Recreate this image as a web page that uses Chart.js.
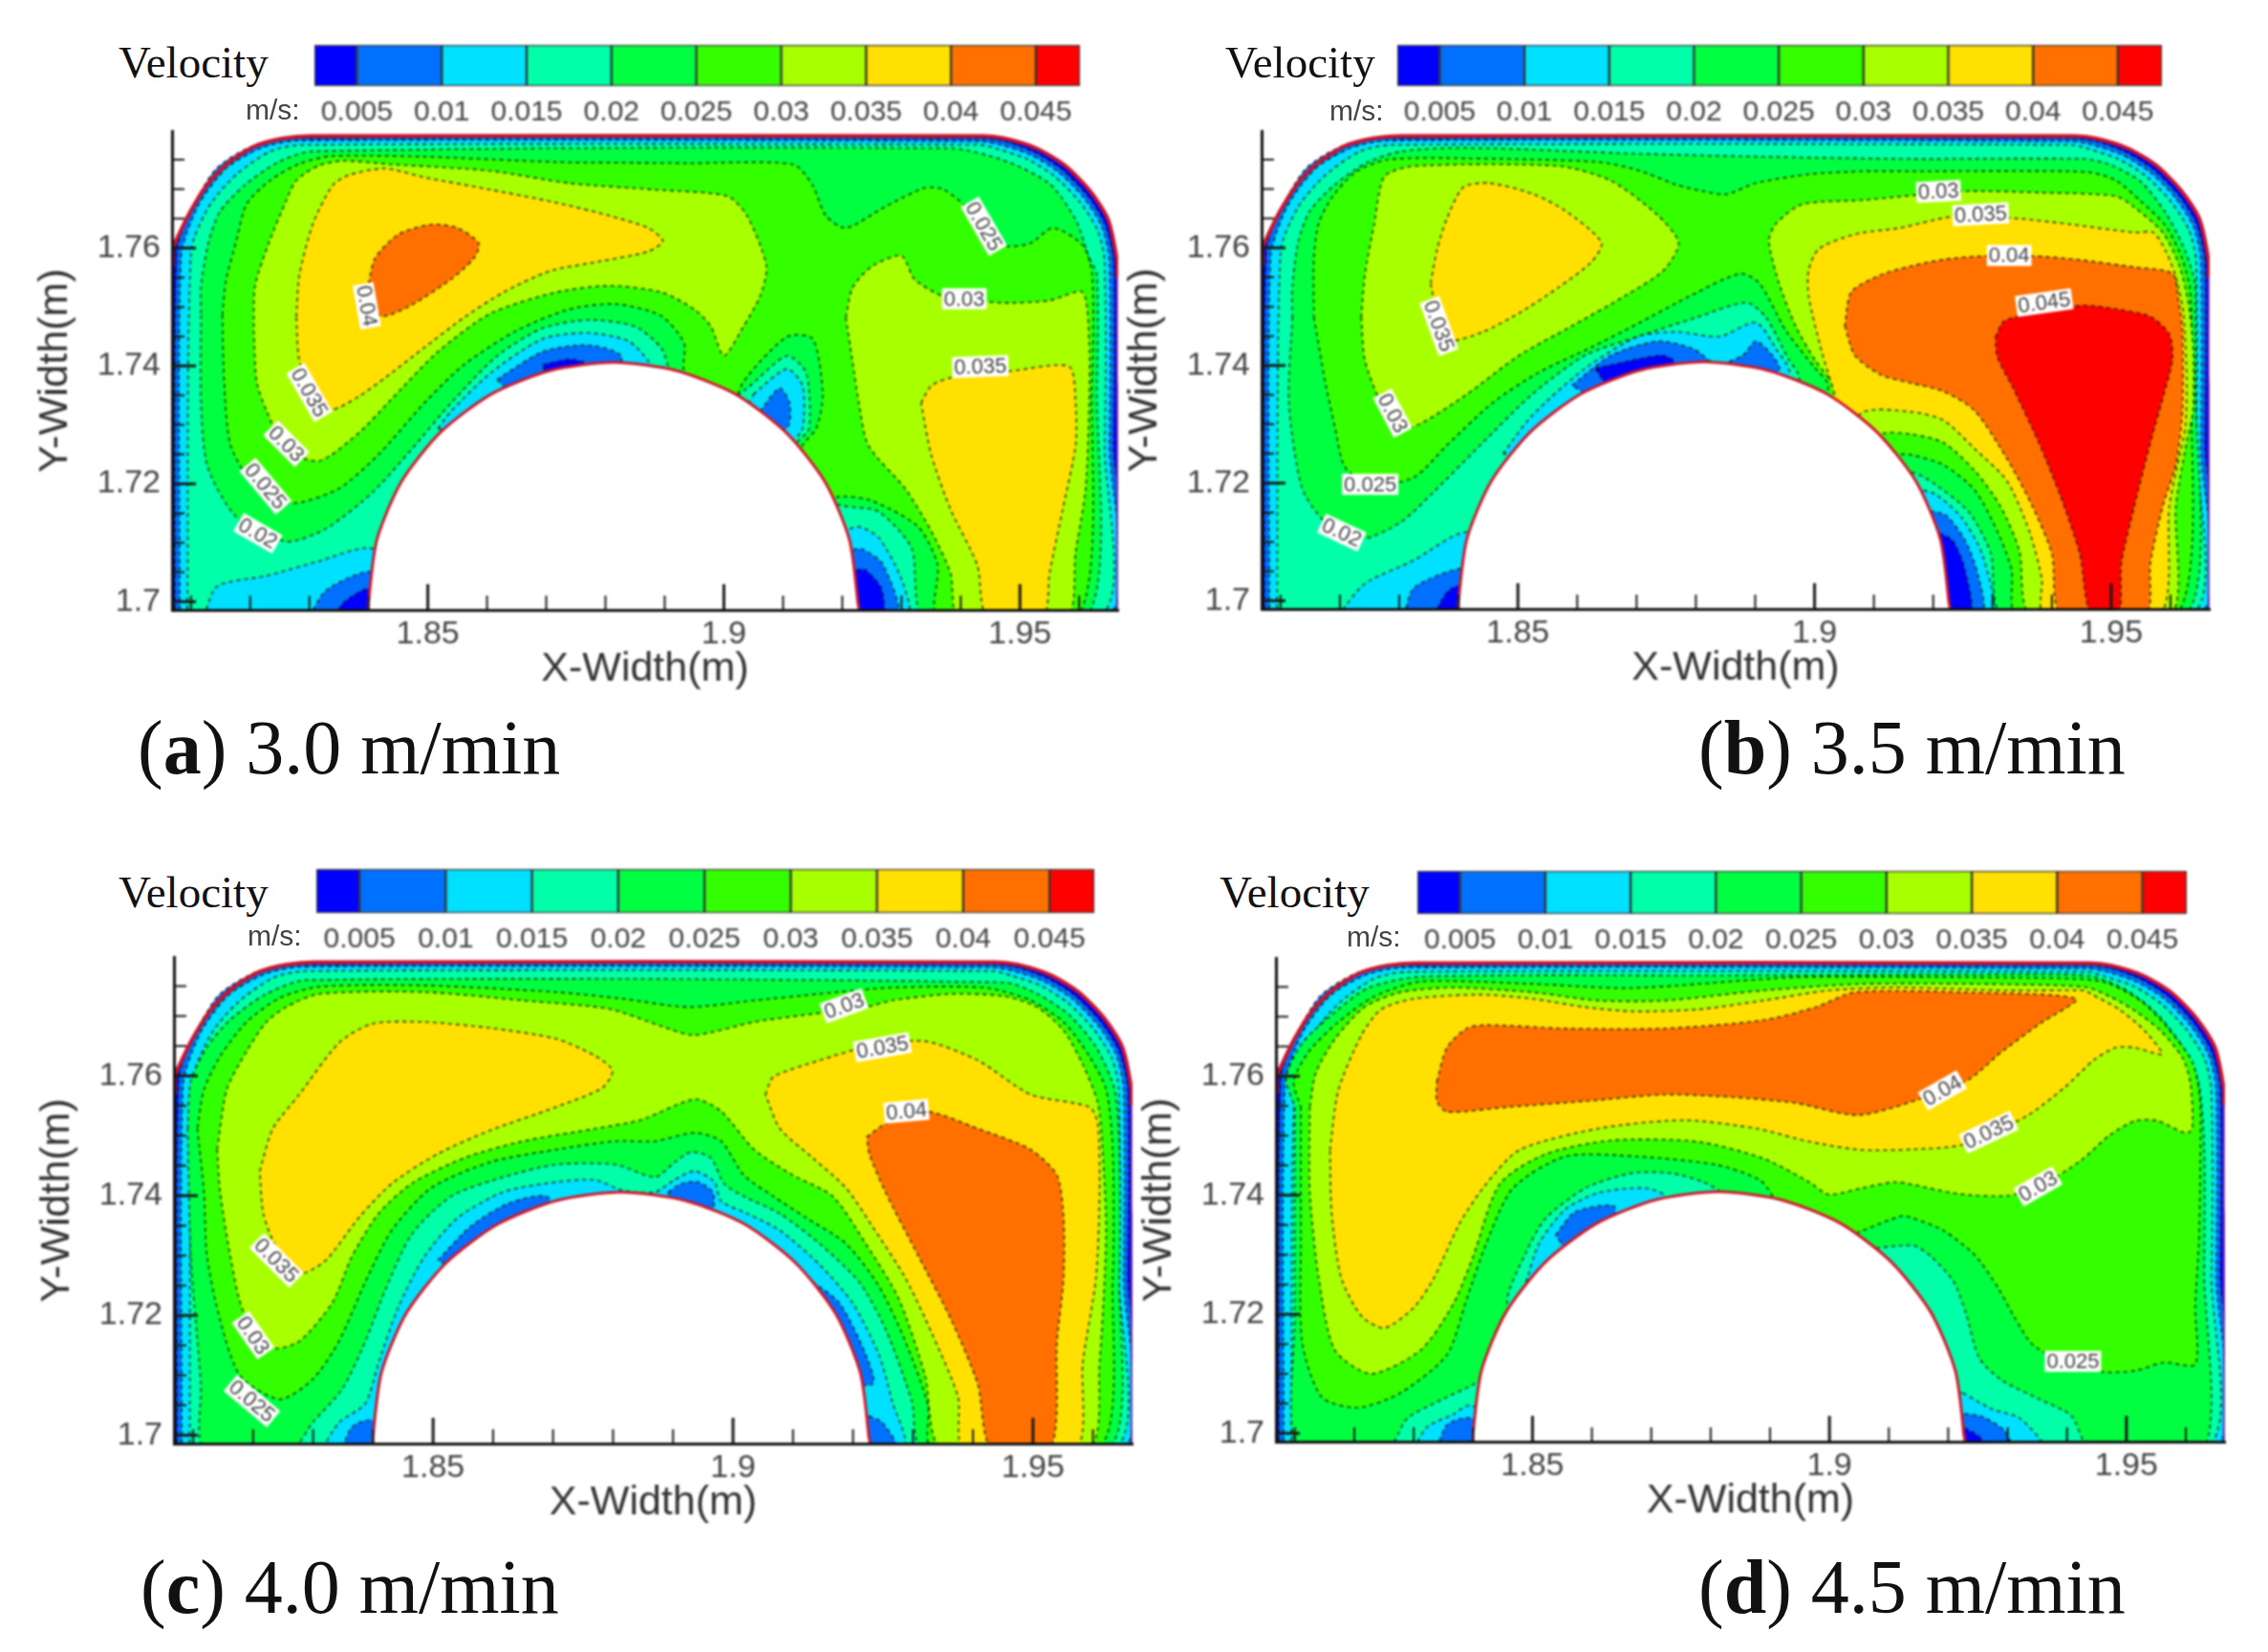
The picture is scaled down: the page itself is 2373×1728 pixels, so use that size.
<!DOCTYPE html>
<html>
<head>
<meta charset="utf-8">
<title>Velocity contours</title>
<script src="https://cdn.jsdelivr.net/npm/chart.js@4/dist/chart.umd.min.js"></script>
<style>
  html, body { margin: 0; padding: 0; background: #fff; }
  body { position: relative; width: 2373px; height: 1728px; overflow: hidden; }
  canvas { position: absolute; filter: blur(0.8px); }
  .txt { position: absolute; white-space: nowrap; }
  .velocity { font: 47px/50px "Liberation Serif", serif; color: #111; }
  .unit { font: 30px/32px "Liberation Sans", sans-serif; color: #444; }
  .caption { font: 80px/78px "Liberation Serif", serif; color: #111; }
</style>
</head>
<body>
<script>
/* ── axes and colour scale ───────────────────────────────────── */
const X_TICKS = [1.81, 1.82, 1.83, 1.84, 1.85, 1.86, 1.87, 1.88, 1.89, 1.9, 1.91, 1.92, 1.93, 1.94, 1.95, 1.96];
const X_LABELLED = [1.85, 1.9, 1.95];
const Y_TICKS = [1.7, 1.705, 1.71, 1.715, 1.72, 1.725, 1.73, 1.735, 1.74, 1.745, 1.75, 1.755, 1.76, 1.765, 1.77, 1.775];
const Y_LABELLED = [1.7, 1.72, 1.74, 1.76];
const BAND_EDGES = [0.0025, 0.005, 0.01, 0.015, 0.02, 0.025, 0.03, 0.035, 0.04, 0.045, 0.0476];
const BAND_TICKS = [0.005, 0.01, 0.015, 0.02, 0.025, 0.03, 0.035, 0.04, 0.045];
const BAND_COLORS = ['#0000ff', '#0070ff', '#00e0ff', '#00ffa8', '#00ff40', '#33ff00', '#a8ff00', '#ffe000', '#ff7000', '#ff0000'];

/* ── mould outline, shared by all four panels ────────────────── */
const WALL = [[1.807,1.6975],[1.807,1.74],[1.807,1.76],[1.8081,1.7626],[1.81,1.7664],[1.8127,1.7707],[1.8164,1.7745],[1.8208,1.7773],[1.8256,1.7786],[1.8304,1.779],[1.9437,1.779],[1.9474,1.7786],[1.9528,1.7769],[1.9576,1.774],[1.9619,1.7696],[1.9649,1.7648],[1.9664,1.7578],[1.9664,1.74],[1.9664,1.6975]];
const WALL_EDGE = [[1.807,1.757],[1.807,1.76],[1.8081,1.7626],[1.81,1.7664],[1.8127,1.7707],[1.8164,1.7745],[1.8208,1.7773],[1.8256,1.7786],[1.8304,1.779],[1.9437,1.779],[1.9474,1.7786],[1.9528,1.7769],[1.9576,1.774],[1.9619,1.7696],[1.9649,1.7648],[1.9664,1.7578],[1.9664,1.755]];
const WALL_LOW_EDGE = [[1.9664,1.755],[1.9664,1.6975]];
const CYLINDER = [[1.84,1.6975],[1.84,1.70],[1.8414,1.7105],[1.8455,1.7203],[1.8521,1.7287],[1.8607,1.7352],[1.8706,1.7392],[1.8813,1.7406],[1.892,1.7392],[1.902,1.7352],[1.9105,1.7287],[1.9171,1.7203],[1.9212,1.7105],[1.9226,1.70],[1.9226,1.6975]];
const RING_005 = [[1.8073,1.6975],[1.8076,1.7594],[1.81,1.7664],[1.8143,1.7735],[1.8208,1.7775],[1.8278,1.7786],[1.9433,1.7786],[1.9474,1.7781],[1.9524,1.7763],[1.957,1.7734],[1.9613,1.769],[1.9643,1.7642],[1.9658,1.7578],[1.9658,1.7265],[1.9652,1.6975]];
const RING_010 = [[1.8081,1.6975],[1.8083,1.7583],[1.8111,1.767],[1.8159,1.7735],[1.8219,1.777],[1.8278,1.7782],[1.9433,1.7781],[1.9468,1.7775],[1.9518,1.7758],[1.9565,1.7729],[1.9608,1.7685],[1.9638,1.7637],[1.9651,1.7578],[1.9651,1.7265],[1.9641,1.6975]];
const RING_015 = [[1.8094,1.6975],[1.81,1.7594],[1.813,1.767],[1.8176,1.7724],[1.8234,1.7764],[1.8288,1.7775],[1.9433,1.7775],[1.9462,1.7768],[1.9512,1.7751],[1.9558,1.7722],[1.9601,1.7678],[1.9631,1.763],[1.9643,1.7578],[1.9643,1.7265],[1.9628,1.6975]];

/* ── (a) 3.0 m/min ───────────────────────────────────────────── */
const A_020 = [[1.8117,1.7486],[1.8117,1.7337],[1.8128,1.7229],[1.8178,1.7142],[1.8261,1.7102],[1.8328,1.7124],[1.8406,1.7185],[1.8472,1.7258],[1.8539,1.7337],[1.8617,1.7417],[1.8694,1.7464],[1.8772,1.7478],[1.885,1.7467],[1.8894,1.7431],[1.8906,1.74],[1.895,1.73],[1.9039,1.7362],[1.9106,1.7417],[1.9139,1.7388],[1.9144,1.7294],[1.9122,1.7268],[1.91,1.72],[1.92,1.7163],[1.9261,1.7153],[1.9317,1.7091],[1.9338,1.6975],[1.9613,1.6975],[1.963,1.7373],[1.963,1.7554],[1.9617,1.7583],[1.9594,1.7648],[1.955,1.7709],[1.9472,1.7749],[1.9383,1.7769],[1.8304,1.7764],[1.8246,1.7745],[1.8191,1.7707],[1.8149,1.7662],[1.813,1.7611],[1.8117,1.7535]];
const A_025 = [[1.8153,1.7486],[1.8156,1.7373],[1.8167,1.7265],[1.8211,1.7192],[1.8272,1.7167],[1.835,1.7192],[1.8417,1.725],[1.8494,1.7337],[1.8561,1.7402],[1.865,1.746],[1.8739,1.7496],[1.8817,1.7505],[1.8894,1.7485],[1.8933,1.7438],[1.8933,1.7391],[1.9,1.73],[1.9033,1.7373],[1.9106,1.7449],[1.915,1.7446],[1.9167,1.7352],[1.9156,1.7294],[1.9133,1.7265],[1.91,1.715],[1.9194,1.7178],[1.925,1.7171],[1.9328,1.7127],[1.9361,1.7062],[1.9361,1.6975],[1.9598,1.6975],[1.9622,1.7373],[1.9622,1.7554],[1.9606,1.7605],[1.9556,1.7634],[1.9517,1.7608],[1.9472,1.7605],[1.9417,1.7663],[1.9372,1.7699],[1.9339,1.7702],[1.9272,1.767],[1.9206,1.7634],[1.9172,1.7655],[1.915,1.7706],[1.9117,1.7742],[1.8939,1.7744],[1.8717,1.7746],[1.8494,1.7755],[1.8337,1.7756],[1.8283,1.7743],[1.8234,1.7715],[1.8194,1.7675],[1.8176,1.761],[1.8159,1.7545]];
const A_030_L = [[1.8206,1.746],[1.8211,1.7373],[1.8228,1.7323],[1.8261,1.7258],[1.8317,1.7239],[1.8383,1.7286],[1.8439,1.7344],[1.8517,1.7424],[1.8606,1.7489],[1.8717,1.7525],[1.8806,1.7536],[1.8894,1.7525],[1.895,1.7496],[1.8978,1.7467],[1.9,1.7417],[1.9033,1.7467],[1.9061,1.7518],[1.9072,1.7569],[1.9039,1.7655],[1.9006,1.7688],[1.8883,1.7699],[1.8739,1.771],[1.8606,1.7731],[1.8439,1.7742],[1.8358,1.7748],[1.8316,1.774],[1.8278,1.7715],[1.8261,1.7681],[1.8232,1.761],[1.8208,1.7535]];
const A_030_R = [[1.9206,1.7482],[1.9217,1.7409],[1.9228,1.7337],[1.9244,1.7265],[1.9306,1.7192],[1.935,1.712],[1.9383,1.7048],[1.9396,1.6975],[1.9579,1.6975],[1.9594,1.7084],[1.9611,1.7192],[1.9617,1.7337],[1.9617,1.7438],[1.9606,1.7525],[1.955,1.7511],[1.9472,1.7507],[1.9372,1.7518],[1.9322,1.7547],[1.93,1.7587],[1.925,1.7569],[1.9217,1.7532]];
const A_035_L = [[1.8278,1.7482],[1.8283,1.7409],[1.8311,1.7344],[1.8339,1.7326],[1.8383,1.7348],[1.8428,1.738],[1.8494,1.7431],[1.8561,1.7482],[1.8628,1.7525],[1.8706,1.7561],[1.8783,1.7576],[1.8872,1.7594],[1.8897,1.7612],[1.8872,1.7634],[1.8806,1.7655],[1.8717,1.7677],[1.8606,1.7699],[1.8494,1.772],[1.8428,1.7735],[1.8367,1.7724],[1.8339,1.7706],[1.8306,1.7641],[1.8283,1.7554]];
const A_035_R = [[1.9333,1.7337],[1.935,1.7366],[1.9383,1.738],[1.9483,1.7391],[1.9583,1.7399],[1.9594,1.7337],[1.9594,1.7265],[1.9572,1.7156],[1.955,1.7048],[1.9539,1.6975],[1.9444,1.6975],[1.9428,1.7062],[1.9383,1.7156],[1.935,1.725]];
const A_040 = [[1.84,1.754],[1.8411,1.7583],[1.845,1.7623],[1.8506,1.764],[1.855,1.7634],[1.8586,1.7608],[1.8578,1.7583],[1.8539,1.7547],[1.8472,1.7503],[1.8422,1.7484],[1.8406,1.751]];
const A_LOW_015 = [
  [[1.8122,1.6975],[1.8144,1.7026],[1.8228,1.7044],[1.8317,1.7069],[1.84,1.7091],[1.85,1.705],[1.85,1.6975]],
  [[1.8517,1.7294],[1.8539,1.7323],[1.8606,1.7388],[1.8694,1.7446],[1.8772,1.7456],[1.8839,1.7442],[1.8872,1.7409],[1.8883,1.7384],[1.88,1.72]],
  [[1.905,1.7352],[1.9106,1.7395],[1.9133,1.7366],[1.9133,1.7294],[1.9117,1.7275],[1.9,1.725]],
  [[1.9213,1.7124],[1.923,1.7127],[1.9262,1.7108],[1.93,1.7038],[1.931,1.6975],[1.91,1.6975],[1.91,1.71]]
];
const A_LOW_010 = [
  [[1.83,1.6975],[1.8328,1.7019],[1.84,1.7051],[1.85,1.703],[1.85,1.6975]],
  [[1.8617,1.7377],[1.8694,1.7424],[1.8772,1.7435],[1.8828,1.7413],[1.875,1.725]],
  [[1.9061,1.7323],[1.9094,1.7362],[1.9111,1.7337],[1.9106,1.7294],[1.9,1.725]],
  [[1.9219,1.7089],[1.9234,1.7089],[1.9268,1.7064],[1.9292,1.6975],[1.91,1.6975],[1.91,1.705]]
];
const A_LOW_005 = [
  [[1.8345,1.6975],[1.8356,1.6997],[1.84,1.7022],[1.845,1.70],[1.845,1.6975]],
  [[1.8694,1.7402],[1.8739,1.7411],[1.8767,1.7402],[1.873,1.73]],
  [[1.9224,1.7054],[1.9239,1.7054],[1.9266,1.7022],[1.9266,1.6975],[1.91,1.6975],[1.91,1.70]]
];
const A_LABELS = [[1.8397,1.7502,'0.04',80],[1.83,1.7355,'0.035',60],[1.8261,1.7268,'0.03',45],[1.8226,1.7196,'0.025',50],[1.8213,1.7116,'0.02',30],[1.9439,1.7637,'0.025',60],[1.9406,1.7514,'0.03',0],[1.9433,1.7399,'0.035',-2]];

/* ── (b) 3.5 m/min ───────────────────────────────────────────── */
const B_020 = [[1.812,1.7482],[1.8114,1.7337],[1.8136,1.7192],[1.8175,1.7134],[1.8236,1.7105],[1.8303,1.7134],[1.8358,1.7185],[1.8436,1.7264],[1.8524,1.7351],[1.8613,1.7417],[1.8702,1.7449],[1.8802,1.7482],[1.8885,1.7507],[1.8918,1.7482],[1.8957,1.7409],[1.8973,1.7384],[1.9,1.72],[1.9163,1.7218],[1.92,1.72],[1.926,1.7151],[1.9297,1.7081],[1.9316,1.6977],[1.9627,1.6977],[1.9642,1.7377],[1.9642,1.7486],[1.9641,1.754],[1.9625,1.7594],[1.9592,1.7659],[1.9549,1.7713],[1.9496,1.7742],[1.9453,1.7751],[1.9163,1.7751],[1.8901,1.7755],[1.8702,1.776],[1.8414,1.777],[1.8304,1.7764],[1.8246,1.7745],[1.8191,1.7707],[1.8149,1.7662],[1.813,1.7611],[1.812,1.7535]];
const B_025 = [[1.8156,1.7482],[1.8175,1.7373],[1.8192,1.7293],[1.8208,1.7228],[1.8253,1.7196],[1.8325,1.721],[1.838,1.7264],[1.8458,1.7337],[1.8535,1.7388],[1.8624,1.7431],[1.8702,1.7471],[1.879,1.7518],[1.8874,1.7556],[1.8907,1.754],[1.8951,1.746],[1.9001,1.7395],[1.9023,1.7366],[1.9,1.72],[1.914,1.7248],[1.9163,1.7248],[1.9217,1.7231],[1.927,1.7188],[1.9308,1.7118],[1.9332,1.7053],[1.934,1.6977],[1.9611,1.6977],[1.9636,1.7377],[1.9636,1.7432],[1.9633,1.7529],[1.9619,1.7583],[1.9592,1.7637],[1.9549,1.768],[1.9507,1.7715],[1.9458,1.7729],[1.9163,1.773],[1.9079,1.773],[1.899,1.7725],[1.8901,1.771],[1.8851,1.7691],[1.8813,1.7696],[1.8768,1.7707],[1.8702,1.7732],[1.8635,1.7746],[1.8414,1.7752],[1.828,1.775],[1.8225,1.7728],[1.8186,1.7685],[1.8164,1.7641],[1.8156,1.7583]];
const B_030_L = [[1.8236,1.7482],[1.8242,1.7554],[1.8258,1.7641],[1.8275,1.7721],[1.8325,1.7739],[1.8569,1.7739],[1.8657,1.7714],[1.8735,1.7656],[1.8771,1.7609],[1.8746,1.7562],[1.868,1.7518],[1.8591,1.7467],[1.8502,1.7417],[1.8414,1.7351],[1.8336,1.7301],[1.8303,1.7293],[1.8269,1.7337],[1.8242,1.7409]];
const B_030_R = [[1.904,1.7359],[1.9001,1.7409],[1.8968,1.7467],[1.894,1.754],[1.8923,1.7612],[1.8935,1.7641],[1.8979,1.7674],[1.9079,1.7681],[1.9249,1.7696],[1.9378,1.7694],[1.9507,1.7688],[1.9539,1.7669],[1.9587,1.7626],[1.9614,1.7572],[1.963,1.7507],[1.9638,1.7432],[1.9638,1.7323],[1.9627,1.7269],[1.9609,1.7161],[1.96,1.6977],[1.9364,1.6977],[1.9345,1.7086],[1.9313,1.7161],[1.927,1.7221],[1.9217,1.7269],[1.9163,1.7283],[1.9112,1.7283],[1.9,1.72]];
const B_035_L = [[1.8353,1.754],[1.8364,1.7598],[1.838,1.7649],[1.8408,1.7703],[1.8452,1.771],[1.8524,1.7692],[1.858,1.7663],[1.8641,1.7609],[1.8624,1.7576],[1.8569,1.7533],[1.8502,1.7489],[1.8441,1.7457],[1.838,1.7442],[1.8364,1.7482]];
const B_035_R = [[1.9034,1.7351],[1.9012,1.7424],[1.899,1.7518],[1.899,1.7562],[1.9007,1.7598],[1.9068,1.7623],[1.9145,1.7634],[1.9233,1.7653],[1.934,1.765],[1.9431,1.764],[1.9539,1.7626],[1.9571,1.7626],[1.9592,1.7594],[1.9609,1.755],[1.9622,1.7486],[1.9627,1.7377],[1.9625,1.7296],[1.9614,1.7242],[1.9598,1.7161],[1.9582,1.6977],[1.9386,1.6977],[1.9383,1.7037],[1.9362,1.7118],[1.9324,1.7204],[1.927,1.7258],[1.9217,1.7307],[1.9163,1.7321],[1.9079,1.7319],[1.9,1.72]];
const B_040 = [[1.9051,1.7467],[1.9068,1.7417],[1.9112,1.7384],[1.9163,1.737],[1.9217,1.7356],[1.927,1.7323],[1.9324,1.7242],[1.9367,1.7161],[1.94,1.708],[1.9415,1.6977],[1.9558,1.6977],[1.9566,1.7064],[1.9587,1.7161],[1.9609,1.7232],[1.962,1.7323],[1.962,1.7459],[1.9614,1.7507],[1.9603,1.7556],[1.9539,1.7567],[1.9442,1.758],[1.9367,1.7586],[1.9286,1.7586],[1.9217,1.758],[1.9163,1.7569],[1.9112,1.7554],[1.9062,1.7525]];
const B_045 = [[1.9305,1.7448],[1.9319,1.7475],[1.9378,1.7491],[1.9453,1.7502],[1.9507,1.7496],[1.9566,1.7483],[1.9598,1.7453],[1.9603,1.741],[1.9587,1.7345],[1.9566,1.7269],[1.9539,1.7161],[1.9517,1.7064],[1.9512,1.6977],[1.9466,1.6977],[1.9447,1.708],[1.9415,1.7177],[1.9378,1.7269],[1.9335,1.7361],[1.9308,1.7415]];
const B_LOW_015 = [
  [[1.8197,1.6975],[1.8242,1.7029],[1.8325,1.7069],[1.8408,1.7116],[1.85,1.71],[1.85,1.6975]],
  [[1.8475,1.725],[1.8524,1.7315],[1.8613,1.7395],[1.8702,1.7449],[1.8768,1.7457],[1.884,1.7449],[1.8901,1.7473],[1.8935,1.7428],[1.8957,1.7384],[1.88,1.72]],
  [[1.9184,1.7188],[1.9206,1.718],[1.9249,1.714],[1.9284,1.7075],[1.9297,1.6977],[1.91,1.6977],[1.91,1.71]]
];
const B_LOW_010 = [
  [[1.8308,1.6975],[1.8325,1.7022],[1.84,1.7054],[1.85,1.705],[1.85,1.6975]],
  [[1.8591,1.7366],[1.8657,1.7417],[1.8735,1.7441],[1.8796,1.7428],[1.8835,1.7402],[1.8879,1.7417],[1.8901,1.7441],[1.8929,1.7417],[1.894,1.7391],[1.88,1.725]],
  [[1.9195,1.7153],[1.9222,1.7145],[1.9254,1.7102],[1.9276,1.7042],[1.9281,1.6977],[1.91,1.6977],[1.91,1.705]]
];
const B_LOW_005 = [
  [[1.8358,1.6975],[1.838,1.7014],[1.84,1.7025],[1.85,1.70],[1.85,1.6975]],
  [[1.863,1.7395],[1.8741,1.7417],[1.8763,1.7406],[1.87,1.73]],
  [[1.9211,1.7115],[1.9233,1.7102],[1.9252,1.7058],[1.926,1.6977],[1.91,1.6977],[1.91,1.70]]
];
const B_LABELS = [[1.9209,1.7696,'0.03',-3],[1.928,1.7657,'0.035',-3],[1.9328,1.7587,'0.04',0],[1.9387,1.7507,'0.045',-8],[1.8367,1.7467,'0.035',70],[1.8289,1.7319,'0.03',62],[1.8251,1.7198,'0.025',0],[1.8203,1.7116,'0.02',25]];

/* ── (c) 4.0 m/min ───────────────────────────────────────────── */
const C_020 = [[1.8091,1.7512],[1.8096,1.7299],[1.8113,1.7085],[1.8118,1.6979],[1.8266,1.6979],[1.8299,1.7021],[1.8349,1.7078],[1.8387,1.7157],[1.842,1.7242],[1.8464,1.7335],[1.853,1.7399],[1.8617,1.7431],[1.8705,1.7452],[1.8804,1.7452],[1.887,1.7431],[1.8903,1.7456],[1.893,1.7473],[1.8963,1.7463],[1.8985,1.742],[1.9018,1.7399],[1.9078,1.737],[1.9144,1.732],[1.921,1.7256],[1.9254,1.7178],[1.9298,1.7057],[1.9315,1.6979],[1.9627,1.6979],[1.9644,1.7263],[1.9644,1.7477],[1.9636,1.7577],[1.9605,1.7648],[1.9561,1.7701],[1.9507,1.7737],[1.9452,1.7756],[1.8288,1.776],[1.8222,1.7737],[1.8162,1.7694],[1.8123,1.7648],[1.8096,1.7591]];
const C_025 = [[1.8107,1.7512],[1.8118,1.7406],[1.8123,1.7299],[1.8145,1.7192],[1.8178,1.71],[1.8244,1.706],[1.8299,1.7093],[1.8343,1.7157],[1.8387,1.7256],[1.8431,1.7342],[1.8497,1.7413],[1.8595,1.7456],[1.8705,1.7477],[1.8804,1.7491],[1.887,1.7491],[1.8936,1.7505],[1.898,1.7491],[1.9018,1.7434],[1.9067,1.7399],[1.9122,1.7363],[1.9188,1.732],[1.9243,1.7249],[1.9287,1.7157],[1.9325,1.705],[1.9331,1.6979],[1.9611,1.6979],[1.9633,1.7263],[1.9633,1.7477],[1.9622,1.7577],[1.9594,1.7633],[1.9551,1.769],[1.9496,1.7726],[1.943,1.7746],[1.9364,1.7749],[1.9254,1.7747],[1.9144,1.7737],[1.9035,1.7726],[1.8925,1.7715],[1.8815,1.7729],[1.8705,1.774],[1.8486,1.7751],[1.831,1.7749],[1.8244,1.773],[1.8189,1.769],[1.8145,1.7633],[1.8118,1.7577]];
const C_030 = [[1.814,1.7477],[1.8145,1.7406],[1.8162,1.7299],[1.8184,1.7206],[1.8233,1.7146],[1.8277,1.7157],[1.8332,1.7221],[1.8365,1.7299],[1.8409,1.737],[1.8464,1.742],[1.8552,1.7463],[1.865,1.7491],[1.8771,1.7512],[1.8848,1.7527],[1.8936,1.7561],[1.898,1.7541],[1.9035,1.7477],[1.91,1.7434],[1.9166,1.7399],[1.9221,1.732],[1.9276,1.7228],[1.932,1.71],[1.9347,1.6979],[1.9594,1.6979],[1.9611,1.7121],[1.9622,1.7335],[1.9616,1.7477],[1.9608,1.7555],[1.9583,1.7619],[1.9551,1.7676],[1.9507,1.7715],[1.9452,1.7733],[1.9364,1.7737],[1.9265,1.7726],[1.9221,1.7715],[1.9144,1.7705],[1.9035,1.769],[1.8934,1.7668],[1.8881,1.7683],[1.8793,1.7712],[1.865,1.7726],[1.8486,1.774],[1.831,1.7737],[1.8255,1.7715],[1.8222,1.769],[1.8189,1.7641],[1.8156,1.7577]];
const C_035_L = [[1.8211,1.7441],[1.8233,1.7512],[1.8277,1.7569],[1.8343,1.7655],[1.8398,1.7687],[1.8486,1.769],[1.8595,1.768],[1.8705,1.7662],[1.8771,1.7633],[1.8799,1.7609],[1.8782,1.758],[1.8705,1.7548],[1.8595,1.7509],[1.8508,1.747],[1.8431,1.742],[1.8376,1.7363],[1.8321,1.7292],[1.8277,1.727],[1.8239,1.7313],[1.8217,1.737]];
const C_035_R = [[1.9054,1.7569],[1.9067,1.7598],[1.9144,1.7626],[1.9232,1.7651],[1.932,1.7658],[1.9408,1.7626],[1.9496,1.7569],[1.9594,1.7548],[1.9608,1.752],[1.9611,1.7406],[1.9605,1.7263],[1.9583,1.7121],[1.9572,1.6979],[1.9384,1.6979],[1.9375,1.7064],[1.9331,1.7171],[1.9287,1.7263],[1.9232,1.7349],[1.9188,1.7413],[1.9133,1.7463],[1.9078,1.7512]];
const C_040 = [[1.9223,1.7498],[1.9254,1.752],[1.932,1.7541],[1.9408,1.7512],[1.9496,1.7477],[1.954,1.7434],[1.9551,1.7363],[1.9551,1.7263],[1.954,1.7157],[1.9529,1.6979],[1.943,1.6979],[1.9408,1.7085],[1.9364,1.7192],[1.9309,1.7299],[1.9254,1.7406],[1.9227,1.747]];
const C_LOW_015 = [
  [[1.8316,1.6979],[1.8343,1.7021],[1.8387,1.7053],[1.8409,1.7121],[1.8442,1.7214],[1.8486,1.7299],[1.8541,1.7363],[1.8617,1.7406],[1.8705,1.7423],[1.8771,1.7426],[1.8815,1.7409],[1.887,1.7406],[1.8903,1.7427],[1.8936,1.7441],[1.8969,1.7423],[1.898,1.7391],[1.9024,1.737],[1.9078,1.7342],[1.9144,1.7285],[1.9199,1.7221],[1.9243,1.7135],[1.9265,1.7057],[1.9282,1.6979]]
];
const C_LOW_010 = [
  [[1.8349,1.6979],[1.8365,1.7014],[1.8396,1.7025],[1.85,1.70],[1.85,1.6979]],
  [[1.8508,1.7292],[1.8563,1.7349],[1.8628,1.7388],[1.8694,1.7395],[1.87,1.72]],
  [[1.8892,1.7406],[1.8914,1.742],[1.8941,1.7423],[1.8966,1.7406],[1.8966,1.7377],[1.89,1.73]],
  [[1.9133,1.7256],[1.9177,1.7221],[1.9221,1.7135],[1.9232,1.7085],[1.91,1.71]],
  [[1.9227,1.7032],[1.9249,1.7021],[1.9271,1.6979],[1.91,1.6979],[1.91,1.70]]
];
const C_LOW_005 = [];
const C_LABELS = [[1.8239,1.7292,'0.035',45],[1.82,1.7167,'0.03',55],[1.8198,1.7057,'0.025',40],[1.9185,1.7717,'0.03',-20],[1.9249,1.7648,'0.035',-10],[1.9289,1.7541,'0.04',-5]];

/* ── (d) 4.5 m/min ───────────────────────────────────────────── */
const D_020 = [[1.81,1.7548],[1.81,1.72],[1.8105,1.6975],[1.8256,1.6975],[1.8289,1.7025],[1.8356,1.7061],[1.84,1.7082],[1.85,1.715],[1.8457,1.7218],[1.8489,1.7304],[1.8522,1.7361],[1.8589,1.7412],[1.8666,1.7437],[1.8733,1.7437],[1.8788,1.7422],[1.8822,1.7401],[1.89,1.73],[1.9139,1.7316],[1.9171,1.7297],[1.9209,1.7255],[1.923,1.7201],[1.9252,1.7127],[1.9289,1.709],[1.9354,1.7057],[1.9407,1.703],[1.9439,1.6975],[1.963,1.6975],[1.9631,1.7266],[1.9631,1.748],[1.9622,1.7587],[1.96,1.764],[1.9557,1.7699],[1.9504,1.7742],[1.9439,1.7768],[1.9246,1.7771],[1.8833,1.7769],[1.8312,1.7767],[1.8223,1.7748],[1.8156,1.7698],[1.8112,1.7655],[1.8085,1.7598]];
const D_025 = [[1.811,1.7548],[1.811,1.7333],[1.8112,1.7154],[1.8145,1.7061],[1.8206,1.7043],[1.8278,1.7068],[1.8356,1.7132],[1.8389,1.7225],[1.8422,1.7319],[1.8467,1.7412],[1.8555,1.7465],[1.8677,1.7465],[1.881,1.7451],[1.8882,1.7426],[1.8905,1.7397],[1.895,1.73],[1.9054,1.734],[1.9121,1.7365],[1.9139,1.7362],[1.9193,1.734],[1.9246,1.7298],[1.9284,1.7244],[1.9311,1.7196],[1.9343,1.7148],[1.9407,1.7116],[1.9461,1.7103],[1.9514,1.7105],[1.9563,1.7119],[1.9616,1.7116],[1.9616,1.7212],[1.9622,1.732],[1.9624,1.7426],[1.9624,1.756],[1.9611,1.7624],[1.9568,1.7683],[1.9525,1.7726],[1.9472,1.7755],[1.9429,1.7763],[1.9246,1.7766],[1.8943,1.7766],[1.8666,1.7748],[1.85,1.7755],[1.8312,1.7759],[1.8234,1.7734],[1.8173,1.7691],[1.8123,1.7641],[1.8098,1.7591]];
const D_030 = [[1.8125,1.7548],[1.8125,1.7404],[1.814,1.7261],[1.8167,1.714],[1.8228,1.71],[1.8312,1.714],[1.8367,1.7218],[1.84,1.7297],[1.8445,1.7419],[1.8522,1.7469],[1.8633,1.7492],[1.8777,1.749],[1.8888,1.7462],[1.8966,1.7422],[1.8999,1.7401],[1.9054,1.7412],[1.911,1.7422],[1.9139,1.7418],[1.9219,1.7402],[1.93,1.7399],[1.9354,1.7415],[1.9423,1.7458],[1.9472,1.7501],[1.9515,1.7525],[1.9552,1.7525],[1.96,1.7504],[1.9611,1.7512],[1.9608,1.7587],[1.9595,1.763],[1.9557,1.7677],[1.9514,1.771],[1.9472,1.7734],[1.9429,1.775],[1.9246,1.7755],[1.9054,1.7755],[1.8888,1.7744],[1.8722,1.7727],[1.8611,1.7727],[1.85,1.7741],[1.8367,1.7749],[1.8278,1.7741],[1.8217,1.7716],[1.8167,1.7662],[1.8135,1.7605]];
const D_035 = [[1.8159,1.7476],[1.8173,1.7576],[1.8212,1.7669],[1.8245,1.7712],[1.83,1.773],[1.8411,1.7737],[1.85,1.773],[1.8589,1.7716],[1.8666,1.7709],[1.8777,1.7712],[1.8888,1.7727],[1.8999,1.7744],[1.911,1.7749],[1.93,1.7744],[1.9429,1.7744],[1.9439,1.7739],[1.9488,1.7712],[1.953,1.7677],[1.956,1.7637],[1.9514,1.7648],[1.9482,1.7648],[1.9445,1.7627],[1.9396,1.7581],[1.9332,1.7533],[1.9225,1.7485],[1.9139,1.7477],[1.9054,1.7476],[1.8966,1.749],[1.8877,1.7512],[1.8755,1.7526],[1.8611,1.7512],[1.8478,1.7476],[1.8422,1.7419],[1.8378,1.7354],[1.8334,1.7261],[1.83,1.7211],[1.8251,1.7177],[1.8212,1.7197],[1.8178,1.7261],[1.8162,1.7369]];
const D_040 = [[1.8339,1.7591],[1.8356,1.7648],[1.8389,1.768],[1.8422,1.7686],[1.8555,1.768],[1.8722,1.768],[1.8888,1.7694],[1.8977,1.7716],[1.9043,1.7741],[1.9221,1.7741],[1.9415,1.773],[1.9354,1.7688],[1.9289,1.764],[1.923,1.7592],[1.9054,1.7535],[1.8943,1.7555],[1.8833,1.7565],[1.8722,1.7569],[1.8589,1.7558],[1.8456,1.7548],[1.8356,1.754],[1.8339,1.7558]];
const D_LOW_015 = [
  [[1.83,1.6975],[1.8323,1.7011],[1.8367,1.7032],[1.8395,1.7047],[1.85,1.70],[1.85,1.6975]],
  [[1.8489,1.7254],[1.8511,1.7319],[1.8555,1.7376],[1.8611,1.7404],[1.8688,1.7412],[1.8722,1.7397],[1.86,1.72]],
  [[1.9225,1.7068],[1.9273,1.7041],[1.9321,1.7025],[1.9359,1.6975],[1.91,1.6975],[1.91,1.705]]
];
const D_LOW_010 = [
  [[1.8339,1.6975],[1.8356,1.7014],[1.8392,1.7026],[1.85,1.70],[1.85,1.6975]],
  [[1.8539,1.7333],[1.8572,1.7372],[1.8639,1.7379],[1.86,1.725]],
  [[1.9228,1.7033],[1.9257,1.7028],[1.9295,1.7004],[1.9305,1.6975],[1.91,1.6975],[1.91,1.70]]
];
const D_LOW_005 = [
  [[1.9228,1.7009],[1.9254,1.6993],[1.926,1.6975],[1.91,1.6975],[1.91,1.70]]
];
const D_LABELS = [[1.919,1.7576,'0.04',-30],[1.9268,1.7506,'0.035',-25],[1.9351,1.7415,'0.03',-30],[1.941,1.7121,'0.025',0]];

/* ── page layout, pixels ─────────────────────────────────────── */
const X_BOUNDS = [1.8068, 1.9666];
const Y_BOUNDS = [1.6986, 1.7798];
const PANELS = [
  { plot: [180, 137, 1170, 638],  bar: [329, 47, 1130, 90],    vel: [124, 40],   unit: [257, 99],   cap: [144, 743],  letter: 'a', text: '3.0 m/min',
    fills: [[4, A_020], [5, A_025], [6, A_030_L], [6, A_030_R], [7, A_035_L], [7, A_035_R], [8, A_040]], lows: [A_LOW_015, A_LOW_010, A_LOW_005], labels: A_LABELS },
  { plot: [1320, 137, 2312, 637], bar: [1462, 47, 2262, 90],   vel: [1282, 40],  unit: [1391, 100], cap: [1777, 743], letter: 'b', text: '3.5 m/min',
    fills: [[4, B_020], [5, B_025], [6, B_030_L], [6, B_030_R], [7, B_035_L], [7, B_035_R], [8, B_040], [9, B_045]], lows: [B_LOW_015, B_LOW_010, B_LOW_005], labels: B_LABELS },
  { plot: [182, 1001, 1185, 1510], bar: [331, 909, 1145, 955], vel: [124, 908],  unit: [259, 963],  cap: [147, 1621], letter: 'c', text: '4.0 m/min',
    fills: [[4, C_020], [5, C_025], [6, C_030], [7, C_035_L], [7, C_035_R], [8, C_040]], lows: [C_LOW_015, C_LOW_010, C_LOW_005], labels: C_LABELS },
  { plot: [1335, 1002, 2328, 1508], bar: [1483, 911, 2288, 956], vel: [1276, 908], unit: [1409, 964], cap: [1777, 1621], letter: 'd', text: '4.5 m/min',
    fills: [[4, D_020], [5, D_025], [6, D_030], [7, D_035], [8, D_040]], lows: [D_LOW_015, D_LOW_010, D_LOW_005], labels: D_LABELS },
];
const PLOT_LEFT = 148, PLOT_BOTTOM = 88, PLOT_PAD = 6;

const toPoints = pts => pts.map(([x, y]) => ({ x, y }));

function contour(pts, color) {
  return {
    data: toPoints(pts.concat([pts[0]])), showLine: true, fill: 'shape', backgroundColor: color,
    borderColor: 'rgba(10,25,0,0.85)', borderWidth: 1.6, borderDash: [4, 4], pointRadius: 0, tension: 0.25,
  };
}

function edge(pts, color, width) {
  return { data: toPoints(pts), showLine: true, fill: false, borderColor: color, borderWidth: width, pointRadius: 0, tension: 0.25 };
}

// Inward ticks
const inwardTicks = {
  id: 'inwardTicks',
  afterDatasetsDraw(chart) {
    const { ctx, chartArea: a, scales: { x, y } } = chart;
    ctx.save();
    ctx.strokeStyle = '#1a1a1a';
    x.ticks.forEach(t => {
      const major = X_LABELLED.includes(t.value);
      const px = x.getPixelForValue(t.value);
      ctx.lineWidth = major ? 3 : 2;
      ctx.beginPath();
      ctx.moveTo(px, a.bottom);
      ctx.lineTo(px, a.bottom - (major ? 27 : 15));
      ctx.stroke();
    });
    y.ticks.forEach(t => {
      const major = Y_LABELLED.includes(t.value);
      const py = y.getPixelForValue(t.value);
      ctx.lineWidth = major ? 3 : 2;
      ctx.beginPath();
      ctx.moveTo(a.left, py);
      ctx.lineTo(a.left + (major ? 25 : 13), py);
      ctx.stroke();
    });
    ctx.restore();
  },
};

// Contour value labels on white boxes
const contourLabels = {
  id: 'contourLabels',
  afterDatasetsDraw(chart, args, opts) {
    const { ctx, scales: { x, y } } = chart;
    ctx.save();
    ctx.font = '22px "Liberation Sans", sans-serif';
    ctx.textAlign = 'center';
    ctx.textBaseline = 'middle';
    opts.items.forEach(([vx, vy, text, angle]) => {
      const w = ctx.measureText(text).width + 4;
      ctx.save();
      ctx.translate(x.getPixelForValue(vx), y.getPixelForValue(vy));
      ctx.rotate(angle * Math.PI / 180);
      ctx.fillStyle = '#fff';
      ctx.fillRect(-w / 2, -11, w, 22);
      ctx.fillStyle = '#444';
      ctx.fillText(text, 0, 1);
      ctx.restore();
    });
    ctx.restore();
  },
};

function addCanvas(left, top, width, height) {
  const cv = document.createElement('canvas');
  cv.width = width;
  cv.height = height;
  cv.style.cssText = `left:${left}px;top:${top}px;width:${width}px;height:${height}px`;
  document.body.appendChild(cv);
  return cv.getContext('2d');
}

function addText(cls, left, top, html) {
  const el = document.createElement('div');
  el.className = 'txt ' + cls;
  el.style.left = left + 'px';
  el.style.top = top + 'px';
  el.innerHTML = html;
  document.body.appendChild(el);
}

function drawPlot(p) {
  const [l, t, r, b] = p.plot;
  const width = r - l + PLOT_LEFT + PLOT_PAD, height = b - t + PLOT_PAD + PLOT_BOTTOM;
  const ctx = addCanvas(l - PLOT_LEFT, t - PLOT_PAD, width, height);

  const layers = [contour(WALL, BAND_COLORS[0]), contour(RING_005, BAND_COLORS[1]), contour(RING_010, BAND_COLORS[2]), contour(RING_015, BAND_COLORS[3])];
  p.fills.forEach(([band, pts]) => layers.push(contour(pts, BAND_COLORS[band])));
  p.lows.forEach((blobs, i) => blobs.forEach(pts => layers.push(contour(pts, BAND_COLORS[2 - i]))));
  const cyl = contour(CYLINDER, '#ffffff');
  cyl.borderColor = '#d01a2c';
  cyl.borderWidth = 3;
  cyl.borderDash = [];
  layers.push(cyl, edge(WALL_EDGE, '#c8142c', 4), edge(WALL_LOW_EDGE, '#7a2ca8', 2));
  layers[0].borderWidth = 0;

  const chart = new Chart(ctx, {
    type: 'scatter',
    data: { datasets: layers.reverse() },   // first dataset is painted last
    plugins: [inwardTicks, contourLabels],
    options: {
      animation: false,
      responsive: false,
      maintainAspectRatio: false,
      devicePixelRatio: 1,
      layout: { autoPadding: false, padding: { top: PLOT_PAD, right: PLOT_PAD } },
      plugins: { legend: { display: false }, tooltip: { enabled: false }, contourLabels: { items: p.labels } },
      scales: {
        x: {
          type: 'linear', min: X_BOUNDS[0], max: X_BOUNDS[1],
          afterFit: s => { s.height = PLOT_BOTTOM; },
          afterBuildTicks: s => { s.ticks = X_TICKS.map(value => ({ value })); },
          grid: { display: false, drawTicks: false },
          border: { display: true, color: '#111', width: 3, z: 2 },
          ticks: {
            autoSkip: false, maxRotation: 0, padding: 5, color: '#444',
            font: { family: 'Liberation Sans', size: 34 },
            callback: v => X_LABELLED.includes(v) ? String(v) : '',
          },
          title: { display: true, text: 'X-Width(m)', color: '#333', font: { family: 'Liberation Sans', size: 43 }, padding: 0 },
        },
        y: {
          min: Y_BOUNDS[0], max: Y_BOUNDS[1],
          afterFit: s => { s.width = PLOT_LEFT; },
          afterBuildTicks: s => { s.ticks = Y_TICKS.map(value => ({ value })); },
          grid: { display: false, drawTicks: false },
          border: { display: true, color: '#111', width: 3, z: 2 },
          ticks: {
            autoSkip: false, padding: 12, color: '#444',
            font: { family: 'Liberation Sans', size: 34 },
            callback: v => Y_LABELLED.includes(v) ? String(v) : '',
          },
          title: { display: true, text: 'Y-Width(m)', color: '#333', font: { family: 'Liberation Sans', size: 43 }, padding: 0 },
        },
      },
    },
  });

  // the layout leaves extra room above the plot; grow the canvas upward so the plot keeps its place
  const extra = Math.round(chart.chartArea.top - PLOT_PAD);
  if (extra > 0) {
    chart.canvas.style.top = (t - PLOT_PAD - extra) + 'px';
    chart.resize(width, height + extra);
  }
}

function drawColorBar(p) {
  const [l, t, r, b] = p.bar;
  const pad = 40, below = 44;
  const ctx = addCanvas(l - pad, t, r - l + pad * 2, b - t + below);
  new Chart(ctx, {
    type: 'bar',
    data: {
      labels: ['Velocity'],
      datasets: BAND_COLORS.map((color, i) => ({
        data: [[BAND_EDGES[i], BAND_EDGES[i + 1]]],
        backgroundColor: color, borderColor: '#333', borderWidth: 1.5, borderSkipped: false,
        barPercentage: 1, categoryPercentage: 1, grouped: false,
      })),
    },
    options: {
      indexAxis: 'y',
      animation: false,
      responsive: false,
      devicePixelRatio: 1,
      layout: { autoPadding: false, padding: { left: pad, right: pad } },
      plugins: { legend: { display: false }, tooltip: { enabled: false } },
      scales: {
        y: { display: false },
        x: {
          type: 'linear', min: BAND_EDGES[0], max: BAND_EDGES[BAND_EDGES.length - 1],
          afterFit: s => { s.height = below; },
          afterBuildTicks: s => { s.ticks = BAND_TICKS.map(value => ({ value })); },
          grid: { display: false, drawTicks: false },
          border: { display: false },
          ticks: {
            autoSkip: false, maxRotation: 0, padding: 10, color: '#444',
            font: { family: 'Liberation Sans', size: 30 },
            callback: v => String(v),
          },
        },
      },
    },
  });
}

PANELS.forEach(p => {
  drawPlot(p);
  drawColorBar(p);
  addText('velocity', p.vel[0], p.vel[1], 'Velocity');
  addText('unit', p.unit[0], p.unit[1], 'm/s:');
  addText('caption', p.cap[0], p.cap[1], `(<b>${p.letter}</b>) ${p.text}`);
});
</script>
</body>
</html>
